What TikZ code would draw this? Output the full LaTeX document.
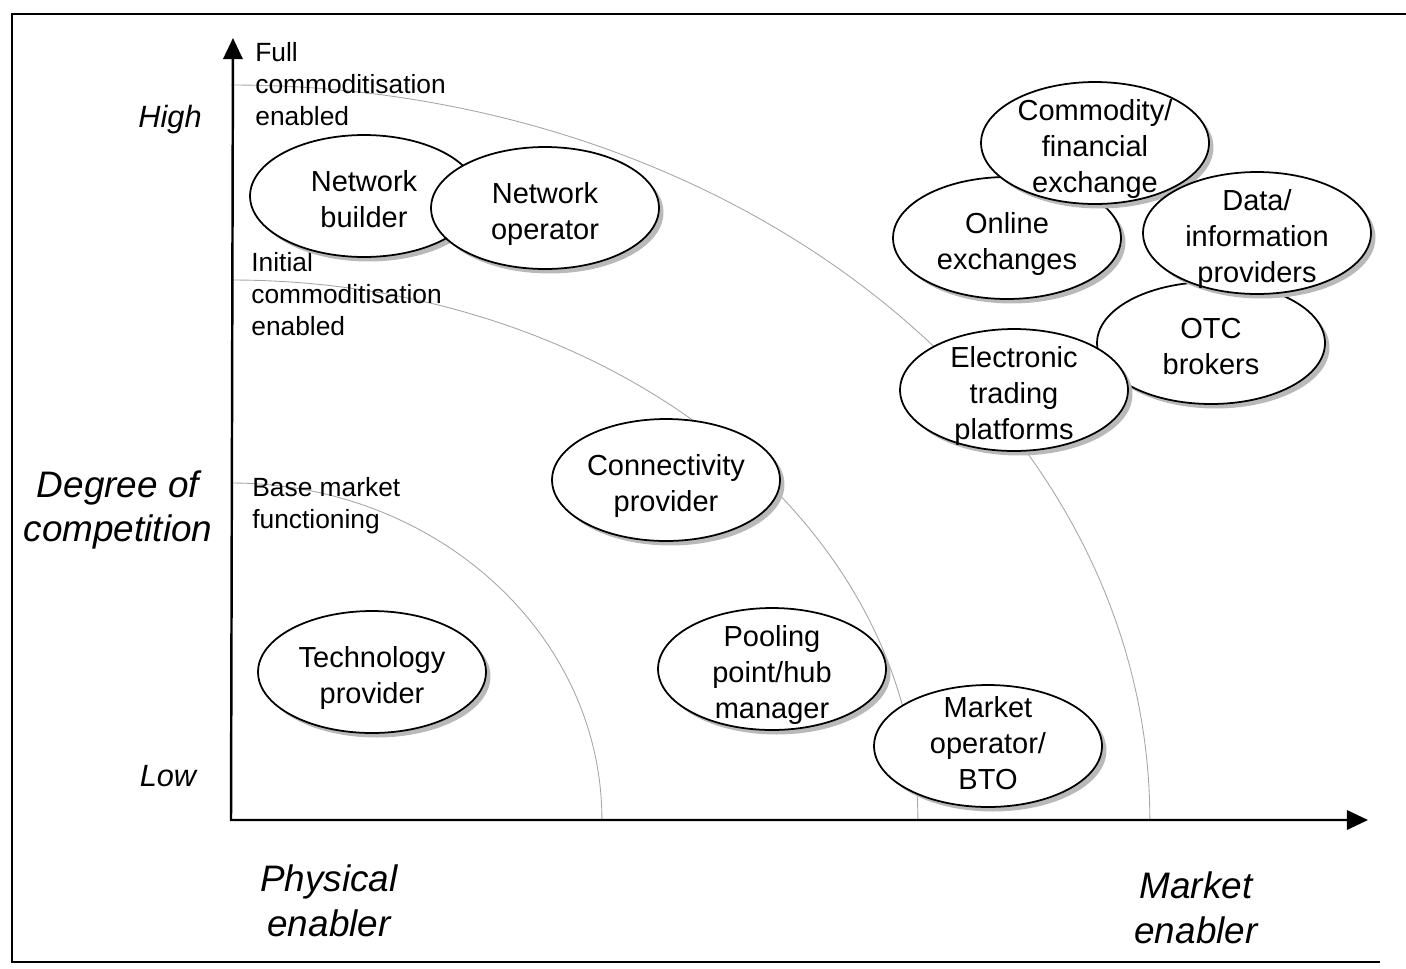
\documentclass[tikz,border=0pt]{standalone}
\usepackage{fontspec}
\setmainfont{Liberation Sans}
\usetikzlibrary{arrows.meta,shapes.geometric,shadows}
\newcommand{\rs}{\rule{0pt}{19pt}}

\begin{document}
\begin{tikzpicture}[x=0.02cm,y=-0.02cm,
	role/.style={ellipse,draw,line width=1pt,fill=white,minimum width=4.56cm,minimum height=2.44cm,
		inner sep=-1cm,align=center,font=\fontsize{16.5}{20.4}\selectfont,
		execute at end node={\rule[-3.5pt]{0pt}{0pt}},
		drop shadow={shadow xshift=0.09cm,shadow yshift=-0.09cm,fill=gray!55,opacity=1}},
	lvl/.style={gray!70,line width=0.5pt},
	lvltext/.style={anchor=west,align=left,inner sep=0pt,font=\fontsize{15}{18.2}\selectfont},
	axtext/.style={align=center,inner sep=0pt,font=\fontsize{21}{25.5}\selectfont\itshape},
	hilo/.style={inner sep=0pt,font=\fontsize{17.5}{20}\selectfont\itshape}]
				\useasboundingbox (0,0) rectangle (1406,968);
				\coordinate (f1) at (1406,14);
				\coordinate (f2) at (12,14);
				\coordinate (f3) at (12,962);
				\coordinate (f4) at (1380,962);
				\draw[line width=1.2pt] (f1) -- (f2) -- (f3) -- (f4);
				\coordinate (o) at (231,820);
				\coordinate (ytip) at (233,38);
				\coordinate (xtip) at (1368,820);
				\coordinate (base) at (231,483);
				\coordinate (init) at (231,280);
				\coordinate (full) at (231,85);
				\draw[lvl] (base) arc[start angle=90,end angle=0,x radius=7.42cm,y radius=6.74cm];
				\draw[lvl] (init) arc[start angle=90,end angle=0,x radius=13.74cm,y radius=10.8cm];
				\draw[lvl] (full) arc[start angle=90,end angle=0,x radius=18.38cm,y radius=14.7cm];
				\draw[line width=1.4pt,{Triangle[length=12pt,width=11pt]}-{Triangle[length=12pt,width=11pt]}] (ytip) -- (o) -- (xtip);
				\node[lvltext] (fulltxt) at (255,84) {Full\\commoditisation\\enabled};
				\node[lvltext] (inittxt) at (251,294) {Initial\\commoditisation\\enabled};
				\node[lvltext] (basetxt) at (252,506) {Base market\\functioning};
				\node[role] (nb) at (364,196) {\rs Network\\builder};
				\node[role] (no) at (545,208) {\rs Network\\operator};
				\node[role] (oe) at (1007,238) {\rs Online\\exchanges};
				\node[role] (cfe) at (1095,143) {\rs Commodity/\\financial\\exchange};
				\node[role] (otc) at (1211,343) {\rs OTC\\brokers};
				\node[role] (dip) at (1257,233) {\rs Data/\\information\\providers};
				\node[role] (etp) at (1014,390) {\rs Electronic\\trading\\platforms};
				\node[role] (cp) at (666,480) {\rs Connectivity\\provider};
				\node[role] (pp) at (772,669) {\rs Pooling\\point/hub\\manager};
				\node[role] (mo) at (988,746) {Market\\operator/\\BTO};
				\node[role] (tp) at (372,672) {\rs Technology\\provider};
				\node[hilo] (high) at (170,120) {High};
				\node[hilo] (low) at (168,776) {Low};
				\node[axtext] (deg) at (118,510) {Degree of\\competition};
				\node[axtext] (phys) at (329,901) {Physical\\enabler};
				\node[axtext] (mkt) at (1196,908) {Market\\enabler};
			\end{tikzpicture}
\end{document}
